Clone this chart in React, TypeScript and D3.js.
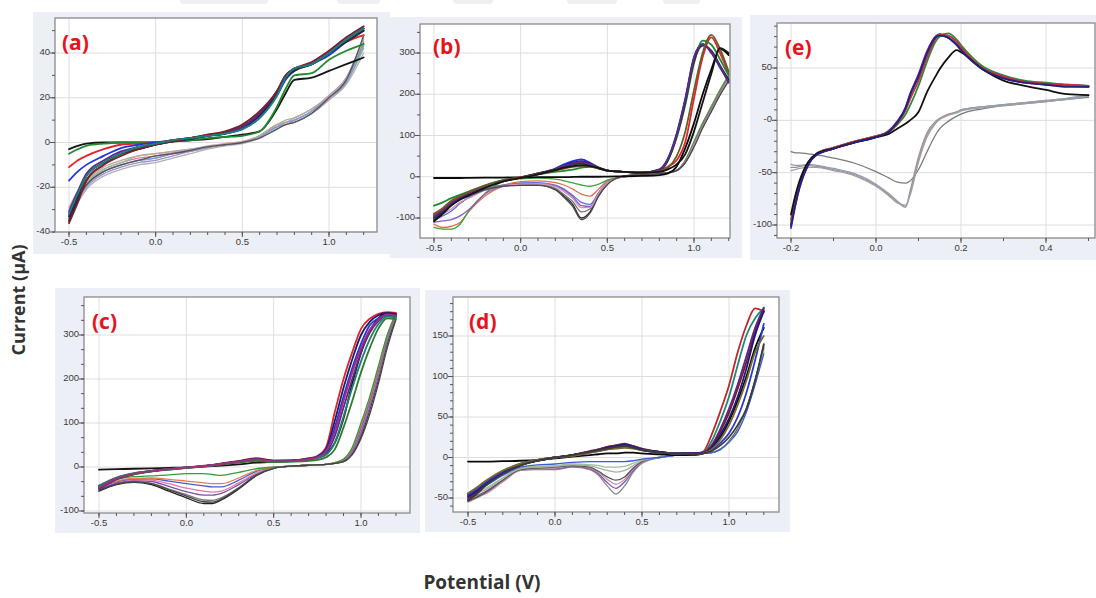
import React from "react";
import * as d3 from "d3";

// ---------- Panel (a) ----------
const gridA = [-0.5, -0.45, -0.4, -0.3, -0.2, -0.1, 0, 0.1, 0.2, 0.3, 0.4, 0.5, 0.6, 0.7, 0.75, 0.8, 0.9, 1.0, 1.1, 1.2];
const fwdA = [
  [-3, -1.5, -0.5, 0, 0, 0, 0, 0.5, 1, 1.5, 2.5, 3.5, 5, 15, 22, 28, 29, 32, 35, 38],
  [-5, -3, -1.5, -0.5, 0, 0, 0, 0.5, 1, 2, 2.5, 3, 5, 16, 24, 30, 31, 37, 41, 44],
  [-11, -8, -6, -3, -1, -0.5, 0, 1, 2, 3.5, 4.5, 7, 12, 22, 29, 33, 35, 40, 45, 48],
  [-17, -13, -10, -6, -2.5, -1, 0, 1, 2, 3, 4, 6, 11, 21, 28, 32, 35, 39, 45, 50],
  [-33, -24, -15, -9, -5, -3, -1, 0.5, 1.5, 3, 4, 6.5, 12, 22, 29, 33, 35, 40, 46, 51],
  [-35, -26, -17, -10, -5, -3, -1, 0.5, 2, 3, 4, 7, 13, 22, 29, 32, 35, 40, 45, 50],
  [-31, -22, -14, -8, -4, -2, -0.5, 1, 2, 3, 4.5, 7, 13, 23, 30, 33, 35, 40, 46, 51],
  [-36, -27, -17, -10, -6, -3, -1, 0.5, 2, 3.5, 5, 8, 14, 23, 30, 33, 36, 41, 47, 52],
  [-32, -23, -15, -9, -5, -2, -0.5, 1, 2, 3, 4, 6, 11, 21, 29, 33, 35, 40, 46, 51],
];
const revA = [
  [-33, -25, -19, -13, -10, -8, -7, -5, -4, -2, -1, 0, 3, 8, 9, 10, 14, 20, 28, 45],
  [-30, -23, -18, -12, -9, -7, -6, -4.5, -3.5, -2, -1, 0, 3, 7, 8, 9, 13, 19, 27, 43],
  [-34, -26, -20, -14, -11, -9, -8, -6, -4, -2.5, -1, 0, 2.5, 7, 8, 10, 14, 21, 29, 47],
  [-31, -24, -18, -12, -9, -6, -5, -4, -3, -2, -1, 0, 3, 8, 10, 11, 15, 20, 27, 42],
  [-35, -27, -21, -15, -12, -10, -9, -7, -5, -3, -1.5, -0.5, 2, 6, 8, 9, 13, 19, 26, 40],
  [-32, -24, -19, -13, -10, -8, -7, -5, -3.5, -2, -1, 0, 2.5, 7, 9, 10, 14, 20, 27, 44],
  [-29, -22, -17, -11, -8, -6, -5, -4, -3, -1.5, -0.5, 0.5, 3, 8, 9, 11, 15, 21, 29, 46],
  [-34, -25, -19, -13, -10, -8, -6, -5, -3.5, -2, -1, 0, 2, 6, 8, 9, 13, 20, 28, 48],
];
const fwdColorsA = ["#151515", "#1f8a2e", "#e0262a", "#2233e0", "#1c1c70", "#2a2a2a", "#5b2a86", "#7a1f2b", "#1b7f7a"];
const revColorsA = ["#8c8c8c", "#d87ca0", "#9b8fd0", "#8fc08f", "#b0b0b8", "#7aa0d8", "#c9a0a0", "#555555"];

// ---------- Panel (b) ----------
const gridB = [-0.5, -0.45, -0.4, -0.35, -0.3, -0.2, -0.1, 0, 0.1, 0.2, 0.25, 0.3, 0.35, 0.4, 0.45, 0.5, 0.6, 0.7, 0.8, 0.85, 0.9, 0.95, 1.0, 1.05, 1.1, 1.15, 1.2];
const fwdB = [
  [-3, -3, -3, -3, -2.5, -2, -2, -1.5, -1, -1, -1, -0.5, 0, 0, 0, 0.5, 1, 2, 4, 8, 25, 70, 130, 200, 260, 310, 295],
  [-95, -80, -62, -50, -40, -23, -10, -2, 8, 20, 30, 38, 42, 34, 22, 15, 12, 10, 18, 45, 105, 190, 290, 322, 300, 265, 230],
  [-100, -85, -65, -52, -42, -24, -10, -2, 7, 18, 26, 34, 38, 32, 22, 15, 12, 10, 17, 42, 100, 185, 285, 320, 305, 270, 235],
  [-92, -78, -60, -48, -38, -21, -9, -1, 8, 18, 25, 30, 34, 30, 22, 15, 12, 10, 14, 25, 40, 85, 190, 290, 338, 300, 250],
  [-70, -62, -52, -44, -36, -20, -8, -2, 6, 12, 14, 17, 22, 24, 20, 15, 12, 10, 15, 40, 95, 175, 275, 330, 320, 285, 245],
  [-105, -88, -68, -54, -44, -25, -11, -2, 8, 18, 24, 30, 32, 28, 22, 15, 12, 10, 16, 40, 98, 180, 280, 318, 305, 268, 232],
  [-98, -82, -64, -51, -41, -23, -10, -2, 7, 17, 25, 32, 36, 30, 21, 15, 12, 10, 17, 43, 102, 188, 288, 321, 302, 267, 228],
  [-90, -76, -58, -47, -37, -21, -9, -2, 6, 15, 20, 24, 26, 25, 20, 15, 12, 10, 13, 22, 50, 110, 210, 300, 344, 310, 255],
  [-108, -90, -70, -55, -45, -26, -11, -3, 6, 16, 22, 26, 28, 26, 21, 15, 12, 10, 12, 18, 30, 55, 110, 180, 250, 312, 300],
];
const revB = [
  [-100, -82, -67, -55, -47, -30, -22, -20, -20, -30, -47, -67, -100, -85, -45, -18, 2, 5, 8, 10, 15, 35, 75, 120, 160, 200, 235],
  [-95, -80, -64, -53, -45, -29, -21, -19, -19, -28, -43, -60, -85, -78, -42, -16, 2, 5, 8, 10, 15, 35, 75, 120, 160, 200, 240],
  [-105, -95, -83, -65, -50, -30, -20, -15, -14, -20, -30, -45, -62, -67, -38, -14, 1, 5, 8, 10, 15, 38, 80, 125, 165, 205, 240],
  [-115, -123, -120, -111, -85, -45, -22, -12, -10, -14, -20, -30, -42, -47, -30, -10, 0, 5, 8, 10, 15, 40, 85, 130, 170, 210, 245],
  [-123, -127, -127, -115, -83, -38, -12, -5, -3, -6, -10, -15, -20, -23, -18, -8, 0, 5, 8, 10, 16, 40, 85, 130, 170, 210, 245],
  [-110, -107, -104, -95, -80, -40, -22, -17, -16, -22, -32, -48, -70, -72, -40, -15, 1, 5, 8, 10, 15, 36, 78, 122, 162, 202, 238],
  [-100, -90, -78, -62, -52, -32, -22, -18, -17, -24, -36, -52, -75, -75, -40, -15, 1, 5, 8, 10, 15, 36, 77, 121, 161, 201, 236],
  [-98, -84, -68, -56, -47, -31, -23, -21, -21, -32, -50, -72, -104, -88, -47, -19, 2, 5, 8, 10, 15, 34, 72, 118, 158, 198, 232],
];
const fwdColorsB = ["#0a0a0a", "#2233e0", "#1c1c70", "#e0262a", "#1f8a2e", "#333333", "#5b2a86", "#6b5a2a", "#141414"];
const revColorsB = ["#2a2a2a", "#777777", "#5a6fd8", "#e0704a", "#3da33d", "#8a5cc8", "#d58fb8", "#4a4a4a"];

// ---------- Panel (c) ----------
const gridC = [-0.5, -0.4, -0.3, -0.2, -0.1, 0, 0.1, 0.15, 0.2, 0.3, 0.4, 0.5, 0.6, 0.7, 0.75, 0.8, 0.85, 0.9, 0.95, 1.0, 1.05, 1.1, 1.15, 1.2];
const fwdC = [
  [-6, -5, -4, -3, -2, -1, 1, 2, 3, 6, 10, 12, 14, 18, 22, 30, 55, 110, 190, 260, 310, 338, 350, 345],
  [-45, -25, -15, -9, -5, -1, 3, 5, 8, 14, 20, 15, 15, 20, 25, 45, 125, 200, 261, 314, 337, 348, 352, 350],
  [-48, -27, -16, -10, -5, -2, 2, 4, 7, 13, 19, 14, 15, 19, 24, 40, 105, 180, 245, 300, 330, 345, 350, 348],
  [-44, -25, -15, -9, -5, -1, 2, 4, 7, 12, 17, 13, 14, 18, 23, 38, 90, 160, 225, 280, 322, 338, 346, 344],
  [-50, -28, -17, -10, -6, -2, 2, 4, 7, 12, 16, 13, 14, 17, 21, 32, 70, 135, 200, 260, 305, 332, 345, 342],
  [-42, -24, -14, -9, -5, -1, 2, 4, 6, 11, 15, 12, 13, 16, 20, 28, 55, 115, 180, 240, 290, 325, 342, 340],
  [-46, -26, -16, -10, -6, -2, 1, 3, 6, 10, 14, 11, 12, 14, 16, 22, 40, 90, 150, 215, 270, 315, 338, 336],
  [-47, -26, -15, -9, -5, -1, 2, 4, 7, 12, 18, 13, 14, 18, 22, 35, 80, 150, 215, 270, 312, 335, 347, 344],
];
const revC = [
  [-55, -40, -35, -40, -55, -70, -83, -83, -75, -50, -20, -3, 2, 4, 5, 6, 8, 12, 30, 70, 130, 200, 280, 340],
  [-52, -38, -33, -37, -50, -63, -75, -76, -70, -47, -18, -3, 2, 4, 5, 6, 8, 13, 32, 75, 135, 205, 285, 342],
  [-50, -36, -31, -33, -44, -56, -64, -64, -60, -40, -16, -2, 2, 4, 5, 6, 9, 14, 35, 80, 140, 210, 290, 344],
  [-48, -34, -29, -30, -38, -48, -55, -57, -55, -36, -14, -2, 2, 4, 5, 6, 9, 15, 38, 85, 145, 215, 292, 345],
  [-46, -33, -27, -27, -32, -38, -43, -45, -45, -30, -10, -1, 2, 4, 5, 6, 9, 16, 40, 90, 150, 220, 295, 346],
  [-45, -32, -26, -25, -28, -32, -36, -38, -38, -25, -8, -1, 2, 4, 5, 6, 10, 17, 42, 95, 155, 225, 298, 347],
  [-42, -28, -22, -20, -18, -15, -15, -17, -19, -12, -4, 0, 2, 4, 5, 6, 10, 18, 45, 100, 160, 230, 300, 348],
  [-53, -39, -34, -38, -52, -66, -79, -80, -73, -48, -19, -3, 2, 4, 5, 6, 8, 12, 28, 65, 120, 190, 270, 335],
];
const fwdColorsC = ["#151515", "#e0262a", "#1c1c70", "#2233e0", "#5b2a86", "#1b7f7a", "#2f7a2f", "#a0307a"];
const revColorsC = ["#222222", "#777777", "#7b4fb0", "#e07aa0", "#4a5ad0", "#e8804a", "#3a9a3a", "#444444"];

// ---------- Panel (d) ----------
const gridD = [-0.5, -0.45, -0.4, -0.3, -0.2, -0.1, 0, 0.1, 0.2, 0.25, 0.3, 0.35, 0.4, 0.45, 0.5, 0.6, 0.7, 0.8, 0.85, 0.9, 0.95, 1.0, 1.05, 1.1, 1.15, 1.2];
const fwdD = [
  [-5, -5, -5, -4.5, -4, -3, -1, 1, 3, 4, 5, 5, 6, 6, 5, 4, 3, 3, 5, 12, 25, 45, 70, 100, 135, 160],
  [-45, -38, -30, -17, -8, -3, 0, 3, 7, 9, 11, 13, 14, 13, 10, 7, 5, 5, 7, 28, 57, 89, 130, 163, 184, 180],
  [-47, -40, -32, -18, -9, -4, 0, 3, 7, 9, 11, 13, 15, 13, 10, 7, 5, 5, 6, 20, 45, 75, 114, 151, 172, 184],
  [-50, -42, -33, -19, -9, -4, 0, 3, 7, 10, 13, 15, 17, 14, 10, 7, 5, 5, 6, 15, 35, 60, 90, 125, 160, 185],
  [-52, -44, -34, -20, -10, -4, 0, 3, 8, 10, 13, 15, 16, 14, 11, 7, 5, 5, 6, 14, 32, 55, 85, 118, 155, 182],
  [-48, -41, -32, -18, -9, -4, 0, 3, 7, 9, 12, 14, 16, 13, 10, 7, 5, 5, 5, 12, 28, 48, 75, 110, 151, 180],
  [-46, -39, -31, -17, -8, -3, 0, 2, 6, 8, 10, 12, 14, 12, 9, 6, 5, 4, 5, 9, 18, 30, 50, 80, 120, 165],
  [-44, -37, -29, -16, -8, -3, 0, 2, 6, 8, 10, 11, 12, 11, 9, 6, 5, 4, 5, 10, 22, 40, 65, 95, 130, 150],
  [-53, -45, -35, -20, -10, -4, 0, 3, 7, 9, 11, 13, 14, 12, 9, 6, 5, 4, 5, 8, 15, 25, 40, 60, 95, 140],
];
const revD = [
  [-55, -50, -44, -30, -16, -15, -15, -12, -15, -22, -35, -45, -35, -18, -7, 0, 3, 4, 5, 6, 10, 20, 35, 60, 95, 140],
  [-52, -47, -42, -28, -15, -14, -14, -11, -14, -20, -31, -38, -30, -16, -6, 0, 3, 4, 5, 6, 10, 20, 35, 60, 95, 138],
  [-50, -48, -45, -30, -16, -14, -13, -10, -13, -18, -27, -33, -27, -14, -6, 0, 3, 4, 5, 6, 10, 20, 35, 60, 95, 136],
  [-54, -49, -43, -28, -15, -13, -12, -10, -12, -17, -24, -28, -24, -13, -5, 0, 3, 4, 5, 6, 10, 20, 35, 60, 95, 135],
  [-48, -44, -40, -26, -14, -12, -11, -9, -10, -13, -16, -18, -16, -10, -4, 0, 3, 4, 5, 6, 10, 19, 33, 58, 92, 132],
  [-46, -42, -38, -25, -13, -11, -10, -8, -9, -10, -12, -12, -11, -7, -3, 0, 3, 4, 5, 6, 10, 19, 33, 58, 92, 130],
  [-45, -40, -35, -22, -12, -9, -8, -6, -5, -5, -5, -5, -5, -4, -2, 0, 3, 4, 5, 6, 10, 19, 32, 56, 90, 128],
];
const fwdColorsD = ["#0a0a0a", "#c0262a", "#1b8a7a", "#5a2a8a", "#7a1a3a", "#1a1a80", "#2a3ad0", "#7a6a2a", "#3a3a3a"];
const revColorsD = ["#888888", "#7a5ab0", "#d08aa8", "#555555", "#aaaaaa", "#9ac09a", "#3a5ad8"];

// ---------- Panel (e) ----------
const gridE = [-0.2, -0.19, -0.18, -0.16, -0.14, -0.1, -0.05, 0, 0.03, 0.05, 0.07, 0.08, 0.1, 0.12, 0.14, 0.15, 0.17, 0.19, 0.2, 0.25, 0.3, 0.35, 0.4, 0.45, 0.5];
const fwdE = [
  [-103, -82, -65, -43, -33, -27, -21, -16, -11, -2, 12, 24, 43, 65, 80, 82, 79, 72, 68, 50, 41, 37, 35, 33, 33],
  [-100, -80, -63, -42, -33, -27, -21, -16, -10, -1, 13, 25, 44, 66, 80, 82, 79, 72, 68, 49, 40, 36, 34, 33, 32],
  [-98, -78, -62, -42, -32, -26, -20, -15, -11, -4, 6, 14, 33, 56, 75, 80, 83, 77, 72, 52, 43, 38, 36, 34, 33],
  [-95, -76, -60, -41, -32, -26, -20, -15, -11, -3, 10, 20, 38, 60, 78, 82, 81, 75, 70, 50, 42, 37, 35, 34, 33],
  [-90, -72, -58, -40, -32, -27, -21, -16, -13, -8, -3, 0, 8, 27, 42, 49, 60, 67, 65, 49, 38, 33, 29, 25, 24],
  [-101, -81, -64, -43, -33, -27, -21, -16, -11, -2, 12, 24, 42, 64, 79, 81, 79, 72, 67, 49, 40, 36, 34, 32, 32],
];
const revE = [
  [-30, -31, -31, -32, -33, -36, -41, -49, -55, -59, -60, -58, -47, -30, -14, -8, -1, 4, 6, 11, 14, 16, 18, 20, 22],
  [-45, -45, -44, -43, -44, -47, -52, -62, -71, -78, -83, -68, -35, -12, -1, 2, 6, 8, 10, 13, 15, 17, 19, 21, 24],
  [-42, -43, -43, -42, -43, -46, -51, -61, -70, -77, -82, -70, -38, -14, -2, 1, 5, 8, 10, 13, 15, 17, 19, 21, 24],
  [-48, -47, -46, -45, -45, -48, -53, -63, -72, -79, -81, -72, -40, -16, -3, 1, 5, 7, 9, 12, 14, 16, 18, 20, 23],
];
const fwdColorsE = ["#2b3bd0", "#6a2a9a", "#2e8b3e", "#c0303a", "#111111", "#22227a"];
const revColorsE = ["#7a7a7a", "#b08888", "#8aa0b8", "#a0a0a0"];

// ---------- Axis ticks ----------
const xTicksMain = [-0.5, 0, 0.5, 1.0];
const xLabelsMain = ["-0.5", "0.0", "0.5", "1.0"];
const xTicksE = [-0.2, 0, 0.2, 0.4];
const xLabelsE = ["-0.2", "0.0", "0.2", "0.4"];
const yTicksA = [-40, -20, 0, 20, 40];
const yLabelsA = ["-40", "-20", "0", "20", "40"];
const yTicksB = [-100, 0, 100, 200, 300];
const yLabelsB = ["-100", "0", "100", "200", "300"];
const yTicksC = [-100, 0, 100, 200, 300];
const yLabelsC = ["-100", "0", "100", "200", "300"];
const yTicksD = [-50, 0, 50, 100, 150];
const yLabelsD = ["-50", "0", "50", "100", "150"];
const yTicksE = [-100, -50, 0, 50];
const yLabelsE = ["-100", "-50", "-0", "50"];

// Faint header bars along the top edge of the page
const headerBars = [
  [180, 268],
  [337, 380],
  [453, 493],
  [567, 617],
  [663, 700],
];

type PanelCfg = {
  id: string;
  tag: string;
  bg: [number, number, number, number];
  plot: [number, number, number, number]; // left, top, right, bottom
  xDom: [number, number];
  xPx: [number, number];
  yDom: [number, number];
  yPx: [number, number];
  xTicks: number[];
  xLabels: string[];
  xStep: number;
  yTicks: number[];
  yLabels: string[];
  yStep: number;
  grid: number[];
  fwd: number[][];
  rev: number[][];
  fwdColors: string[];
  revColors: string[];
  tagPos: [number, number];
};

const panels: PanelCfg[] = [
  {
    id: "a", tag: "(a)", bg: [33, 12, 357, 242], plot: [55, 18, 377, 232],
    xDom: [-0.5, 1.0], xPx: [69, 329], yDom: [-40, 40], yPx: [232, 53],
    xTicks: xTicksMain, xLabels: xLabelsMain, xStep: 0.1,
    yTicks: yTicksA, yLabels: yLabelsA, yStep: 10,
    grid: gridA, fwd: fwdA, rev: revA, fwdColors: fwdColorsA, revColors: revColorsA,
    tagPos: [62, 50],
  },
  {
    id: "b", tag: "(b)", bg: [390, 17, 352, 241], plot: [420, 24, 730, 238],
    xDom: [-0.5, 1.0], xPx: [434, 694], yDom: [-100, 300], yPx: [218, 53],
    xTicks: xTicksMain, xLabels: xLabelsMain, xStep: 0.1,
    yTicks: yTicksB, yLabels: yLabelsB, yStep: 50,
    grid: gridB, fwd: fwdB, rev: revB, fwdColors: fwdColorsB, revColors: revColorsB,
    tagPos: [433, 54],
  },
  {
    id: "e", tag: "(e)", bg: [750, 15, 346, 245], plot: [777, 23, 1095, 238],
    xDom: [-0.2, 0.4], xPx: [791, 1046], yDom: [-100, 50], yPx: [225, 68],
    xTicks: xTicksE, xLabels: xLabelsE, xStep: 0.1,
    yTicks: yTicksE, yLabels: yLabelsE, yStep: 10,
    grid: gridE, fwd: fwdE, rev: revE, fwdColors: fwdColorsE, revColors: revColorsE,
    tagPos: [785, 55],
  },
  {
    id: "c", tag: "(c)", bg: [55, 288, 365, 245], plot: [84, 297, 410, 513],
    xDom: [-0.5, 1.0], xPx: [99, 361], yDom: [-100, 300], yPx: [511, 335],
    xTicks: xTicksMain, xLabels: xLabelsMain, xStep: 0.1,
    yTicks: yTicksC, yLabels: yLabelsC, yStep: 100 / 3,
    grid: gridC, fwd: fwdC, rev: revC, fwdColors: fwdColorsC, revColors: revColorsC,
    tagPos: [92, 329],
  },
  {
    id: "d", tag: "(d)", bg: [425, 290, 365, 242], plot: [453, 297, 779, 512],
    xDom: [-0.5, 1.0], xPx: [468, 729], yDom: [-50, 150], yPx: [498, 336],
    xTicks: xTicksMain, xLabels: xLabelsMain, xStep: 0.1,
    yTicks: yTicksD, yLabels: yLabelsD, yStep: 10,
    grid: gridD, fwd: fwdD, rev: revD, fwdColors: fwdColorsD, revColors: revColorsD,
    tagPos: [469, 329],
  },
];

const TICK_FONT = "'Liberation Sans', Arial, sans-serif";
const TITLE_FONT = "'Open Sans', 'Liberation Sans', sans-serif";

function minorTicks(lo: number, hi: number, step: number): number[] {
  const start = Math.ceil((lo - 1e-9) / step);
  const end = Math.floor((hi + 1e-9) / step);
  return d3.range(start, end + 1).map((k) => k * step);
}

function Panel({ cfg }: { cfg: PanelCfg }) {
  const x = d3.scaleLinear().domain(cfg.xDom).range(cfg.xPx);
  const y = d3.scaleLinear().domain(cfg.yDom).range(cfg.yPx);
  const [l, t, r, b] = cfg.plot;
  const xMinor = minorTicks(x.invert(l), x.invert(r - 1), cfg.xStep);
  const yMinor = minorTicks(y.invert(b), y.invert(t), cfg.yStep);
  const path = (vals: number[]) =>
    d3
      .line<number>()
      .x((_, i) => x(cfg.grid[i]))
      .y((v) => y(v))
      .curve(d3.curveMonotoneX)(vals) || "";
  const clipId = `clip-${cfg.id}`;
  return (
    <g>
      <rect x={cfg.bg[0]} y={cfg.bg[1]} width={cfg.bg[2]} height={cfg.bg[3]} fill="#edeff6" />
      <rect x={l} y={t} width={r - l} height={b - t} fill="#ffffff" />
      <clipPath id={clipId}>
        <rect x={l} y={t} width={r - l} height={b - t} />
      </clipPath>
      {/* grid */}
      <g stroke="#dedede" strokeWidth={1}>
        {cfg.xTicks.map((v) => (
          <line key={`gx${v}`} x1={x(v)} x2={x(v)} y1={t} y2={b} />
        ))}
        {cfg.yTicks.map((v) => (
          <line key={`gy${v}`} x1={l} x2={r} y1={y(v)} y2={y(v)} />
        ))}
      </g>
      {/* voltammograms: return sweeps under, forward sweeps on top */}
      <g clipPath={`url(#${clipId})`} fill="none" strokeLinejoin="round" strokeLinecap="round">
        {cfg.rev.map((vals, i) => (
          <path key={`r${i}`} d={path(vals)} stroke={cfg.revColors[i]} strokeWidth={1.3} />
        ))}
        {cfg.fwd.map((vals, i) => (
          <path key={`f${i}`} d={path(vals)} stroke={cfg.fwdColors[i]} strokeWidth={1.8} />
        ))}
      </g>
      {/* frame */}
      <rect x={l} y={t} width={r - l} height={b - t} fill="none" stroke="#8a8a8a" strokeWidth={1.3} />
      {/* ticks */}
      <g stroke="#555" strokeWidth={1}>
        {xMinor.map((v) => (
          <line key={`mx${v}`} x1={x(v)} x2={x(v)} y1={b} y2={b + 3} />
        ))}
        {cfg.xTicks.map((v) => (
          <line key={`tx${v}`} x1={x(v)} x2={x(v)} y1={b} y2={b + 5} />
        ))}
        {yMinor.map((v) => (
          <line key={`my${v}`} x1={l - 3} x2={l} y1={y(v)} y2={y(v)} />
        ))}
        {cfg.yTicks.map((v) => (
          <line key={`ty${v}`} x1={l - 5} x2={l} y1={y(v)} y2={y(v)} />
        ))}
      </g>
      <g fontFamily={TICK_FONT} fontSize={9.5} fill="#3a3a3a">
        {cfg.xTicks.map((v, i) => (
          <text key={`lx${v}`} x={x(v)} y={b + 13} textAnchor="middle">
            {cfg.xLabels[i]}
          </text>
        ))}
        {cfg.yTicks.map((v, i) => (
          <text key={`ly${v}`} x={l - 5} y={y(v) + 2} textAnchor="end">
            {cfg.yLabels[i]}
          </text>
        ))}
      </g>
      <text x={cfg.tagPos[0]} y={cfg.tagPos[1]} fontFamily={TITLE_FONT} fontWeight={700} fontSize={21} fill="#e5141c">
        {cfg.tag}
      </text>
    </g>
  );
}

export default function App() {
  return (
    <svg
      width={1096}
      height={598}
      viewBox="0 0 1096 598"
      style={{ position: "absolute", left: 0, top: 0, background: "#ffffff" }}
    >
      <rect x={0} y={0} width={1096} height={598} fill="#ffffff" />
      {headerBars.map(([a, z], i) => (
        <rect key={`hb${i}`} x={a} y={-4} width={z - a} height={8} rx={4} fill="#efefef" />
      ))}
      {panels.map((p) => (
        <Panel key={p.id} cfg={p} />
      ))}
      <text
        transform="translate(25,300) rotate(-90)"
        textAnchor="middle"
        fontFamily={TITLE_FONT}
        fontWeight={700}
        fontSize={18}
        fill="#333"
      >
        Current (µA)
      </text>
      <text x={482} y={589} textAnchor="middle" fontFamily={TITLE_FONT} fontWeight={700} fontSize={19} fill="#333">
        Potential (V)
      </text>
    </svg>
  );
}
